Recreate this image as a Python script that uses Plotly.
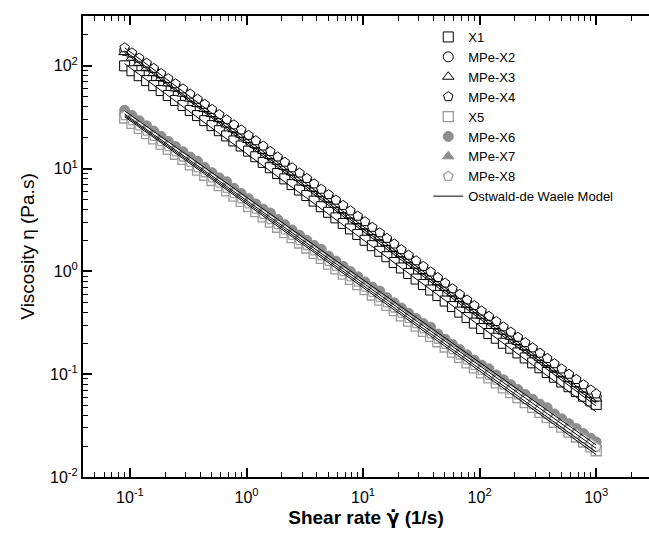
import plotly.graph_objects as go

# Shear rate (1/s)
shear_rate = [0.09, 0.104, 0.12, 0.139, 0.16, 0.185, 0.213, 0.246, 0.285, 0.329, 0.38, 0.438, 0.506,
              0.584, 0.675, 0.779, 0.9, 1.04, 1.2, 1.39, 1.6, 1.85, 2.13, 2.46, 2.85, 3.29, 3.8, 4.38,
              5.06, 5.84, 6.75, 7.79, 9.0, 10.4, 12.0, 13.9, 16.0, 18.5, 21.3, 24.6, 28.5, 32.9, 38.0,
              43.8, 50.6, 58.4, 67.5, 77.9, 90, 104, 120, 139, 160, 185, 213, 246, 285, 329, 380, 438,
              506, 584, 675, 779, 900, 1000]

# Viscosity (Pa.s)
X1 = [100, 89.6, 80.2, 71.8, 64.2, 57.5, 51.5, 46.1, 41.2, 36.8, 32.8, 29.3, 26.2, 23.4, 20.8, 18.6,
      16.6, 14.8, 13.05, 11.5, 10.2, 8.97, 7.95, 6.99, 6.19, 5.47, 4.83, 4.26, 3.76, 3.32, 2.93, 2.59,
      2.29, 2.01, 1.78, 1.57, 1.39, 1.22, 1.08, 0.955, 0.843, 0.745, 0.659, 0.582, 0.515, 0.455, 0.402,
      0.356, 0.314, 0.278, 0.249, 0.224, 0.200, 0.179, 0.161, 0.144, 0.129, 0.1155, 0.104, 0.0935,
      0.0840, 0.0756, 0.0680, 0.0611, 0.0549, 0.0509]
MPe_X2 = [141, 126, 112, 99.5, 89.2, 79.0, 70.9, 62.8, 56.3, 49.9, 44.7, 39.6, 35.5, 31.5, 28.2, 25.0,
          22.4, 19.9, 17.5, 15.7, 13.8, 12.3, 10.8, 9.62, 8.50, 7.58, 6.68, 5.95, 5.24, 4.67, 4.12, 3.67,
          3.24, 2.87, 2.53, 2.24, 1.98, 1.74, 1.54, 1.35, 1.20, 1.05, 0.932, 0.818, 0.726, 0.638, 0.565,
          0.497, 0.439, 0.387, 0.345, 0.306, 0.272, 0.241, 0.215, 0.191, 0.170, 0.151, 0.134, 0.119,
          0.106, 0.0942, 0.0836, 0.0744, 0.0660, 0.0605]
MPe_X3 = [136, 120, 107, 95.8, 85.0, 76.1, 67.6, 60.4, 53.6, 48.0, 42.6, 38.1, 33.9, 30.3, 26.9, 24.1,
          21.4, 19.0, 16.9, 14.9, 13.3, 11.7, 10.4, 9.20, 8.15, 7.25, 6.40, 5.69, 5.03, 4.46, 3.95, 3.51,
          3.10, 2.75, 2.42, 2.15, 1.89, 1.67, 1.47, 1.30, 1.14, 1.01, 0.890, 0.786, 0.693, 0.612, 0.539,
          0.477, 0.419, 0.371, 0.329, 0.294, 0.260, 0.232, 0.206, 0.183, 0.162, 0.145, 0.128, 0.114,
          0.101, 0.0902, 0.0800, 0.0712, 0.0632, 0.0580]
MPe_X4 = [150, 133.7, 119.1, 106.2, 94.6, 84.3, 75.2, 67.0, 59.7, 53.2, 47.4, 42.3, 37.7, 33.6, 29.9,
          26.7, 23.8, 21.1, 18.7, 16.6, 14.7, 13.0, 11.55, 10.2, 9.07, 8.04, 7.12, 6.31, 5.59, 4.95, 4.39,
          3.89, 3.45, 3.05, 2.69, 2.38, 2.10, 1.85, 1.63, 1.44, 1.27, 1.12, 0.989, 0.872, 0.770, 0.679,
          0.599, 0.529, 0.466, 0.412, 0.366, 0.326, 0.289, 0.257, 0.229, 0.203, 0.1805, 0.1604, 0.1426,
          0.1267, 0.1126, 0.1001, 0.0890, 0.0790, 0.0702, 0.0644]
X5 = [31.1, 27.6, 24.6, 21.9, 19.5, 17.3, 15.5, 13.8, 12.3, 10.9, 9.66, 8.62, 7.67, 6.83, 6.07, 5.41,
      4.81, 4.28, 3.81, 3.39, 3.02, 2.69, 2.39, 2.13, 1.89, 1.69, 1.50, 1.34, 1.18, 1.06, 0.941, 0.837,
      0.745, 0.664, 0.590, 0.525, 0.467, 0.416, 0.370, 0.329, 0.293, 0.261, 0.233, 0.207, 0.184, 0.164,
      0.146, 0.129, 0.115, 0.103, 0.0921, 0.0825, 0.0738, 0.0661, 0.0592, 0.0530, 0.0475, 0.0425,
      0.0381, 0.0341, 0.0305, 0.0273, 0.0245, 0.0219, 0.0196, 0.0180]
MPe_X6 = [37.0, 32.9, 29.3, 26.1, 23.2, 20.6, 18.4, 16.4, 14.6, 12.95, 11.8, 10.26, 9.13, 8.13, 7.45,
          6.44, 5.73, 5.10, 4.54, 4.04, 3.70, 3.20, 2.85, 2.53, 2.25, 2.01, 1.79, 1.64, 1.41, 1.26, 1.12,
          0.997, 0.887, 0.790, 0.703, 0.645, 0.556, 0.495, 0.441, 0.392, 0.349, 0.311, 0.287, 0.246,
          0.219, 0.195, 0.1735, 0.1544, 0.1374, 0.1226, 0.113, 0.0985, 0.0883, 0.0791, 0.0709, 0.0636,
          0.0570, 0.0511, 0.0472, 0.0411, 0.0368, 0.0330, 0.0296, 0.0265, 0.0238, 0.0219]
MPe_X7 = [35.8, 31.4, 28.3, 25.0, 22.5, 19.7, 17.8, 15.7, 14.1, 12.4, 11.1, 9.80, 8.85, 7.78, 7.00, 6.16,
          5.55, 4.88, 4.40, 3.87, 3.48, 3.06, 2.76, 2.42, 2.18, 1.92, 1.73, 1.52, 1.37, 1.20, 1.09, 0.955,
          0.860, 0.756, 0.682, 0.598, 0.540, 0.474, 0.428, 0.375, 0.339, 0.298, 0.269, 0.236, 0.213, 0.187,
          0.168, 0.148, 0.133, 0.117, 0.1065, 0.0943, 0.0857, 0.0757, 0.0688, 0.0609, 0.0553, 0.0489,
          0.0444, 0.0394, 0.0357, 0.0316, 0.0287, 0.0254, 0.0231, 0.0211]
MPe_X8 = [32.9, 29.3, 26.1, 23.2, 20.6, 18.3, 16.4, 14.6, 13.0, 11.5, 10.2, 9.13, 8.13, 7.24, 6.43, 5.73,
          5.10, 4.54, 4.04, 3.60, 3.20, 2.85, 2.54, 2.25, 2.00, 1.79, 1.59, 1.42, 1.25, 1.12, 0.997, 0.887,
          0.789, 0.703, 0.626, 0.556, 0.495, 0.441, 0.392, 0.349, 0.311, 0.277, 0.247, 0.219, 0.195, 0.174,
          0.154, 0.137, 0.122, 0.109, 0.0978, 0.0877, 0.0786, 0.0704, 0.0631, 0.0566, 0.0507, 0.0455,
          0.0408, 0.0366, 0.0328, 0.0294, 0.0263, 0.0236, 0.0212, 0.0195]

# Ostwald-de Waele model lines: viscosity at the first and last shear rate
model_rate = [0.09, 1000]
model_X1 = [105, 0.043]
model_X2 = [140, 0.052]
model_X3 = [135, 0.049]
model_X4 = [150, 0.055]
model_X5 = [32, 0.0165]
model_X6 = [36.5, 0.0205]
model_X7 = [34, 0.019]
model_X8 = [33, 0.0175]

names = ["X1", "MPe-X2", "MPe-X3", "MPe-X4", "X5", "MPe-X6", "MPe-X7", "MPe-X8"]
series = [X1, MPe_X2, MPe_X3, MPe_X4, X5, MPe_X6, MPe_X7, MPe_X8]
models = [model_X1, model_X2, model_X3, model_X4, model_X5, model_X6, model_X7, model_X8]

x_major = [0.1, 1, 10, 100, 1000]
x_major_text = ["10<sup>-1</sup>", "10<sup>0</sup>", "10<sup>1</sup>", "10<sup>2</sup>", "10<sup>3</sup>"]
y_major = [0.01, 0.1, 1, 10, 100]
y_major_text = ["10<sup>-2</sup>", "10<sup>-1</sup>", "10<sup>0</sup>", "10<sup>1</sup>", "10<sup>2</sup>"]
x_minor = [0.05, 0.06, 0.07, 0.08, 0.09, 0.2, 0.3, 0.4, 0.5, 0.6, 0.7, 0.8, 0.9,
           2, 3, 4, 5, 6, 7, 8, 9, 20, 30, 40, 50, 60, 70, 80, 90,
           200, 300, 400, 500, 600, 700, 800, 900, 2000]
y_minor = [0.02, 0.03, 0.04, 0.05, 0.06, 0.07, 0.08, 0.09, 0.2, 0.3, 0.4, 0.5, 0.6, 0.7, 0.8, 0.9,
           2, 3, 4, 5, 6, 7, 8, 9, 20, 30, 40, 50, 60, 70, 80, 90, 200, 300]

styles = [
    dict(symbol="square", color="white", line=dict(color="black", width=1)),
    dict(symbol="circle", color="white", line=dict(color="black", width=1)),
    dict(symbol="triangle-up", color="white", line=dict(color="black", width=1)),
    dict(symbol="pentagon", color="white", line=dict(color="black", width=1)),
    dict(symbol="square", color="white", line=dict(color="#9a9a9a", width=1.3)),
    dict(symbol="circle", color="#8e8e8e", line=dict(color="#8e8e8e", width=1)),
    dict(symbol="triangle-up", color="#8e8e8e", line=dict(color="#8e8e8e", width=1)),
    dict(symbol="pentagon", color="white", line=dict(color="#a0a0a0", width=1.3)),
]

FONT = "Liberation Sans, Arial, sans-serif"
fig = go.Figure()
for name, ys, st in zip(names, series, styles):
    fig.add_trace(go.Scatter(x=shear_rate, y=ys, mode="markers", name=name,
                             marker=dict(size=10, **st)))
for k, m in enumerate(models):
    fig.add_trace(go.Scatter(x=model_rate, y=m, mode="lines", name="Ostwald-de Waele Model",
                             line=dict(color="black", width=1), legendgroup="model",
                             showlegend=(k == 0)))

fig.update_layout(
    width=649, height=540,
    margin=dict(l=83, r=0, t=16, b=63, autoexpand=False),
    plot_bgcolor="white", paper_bgcolor="white",
    font=dict(family=FONT, color="black"),
    legend=dict(x=0.61, y=0.987, xanchor="left", yanchor="top", bgcolor="rgba(0,0,0,0)",
                font=dict(size=13, family=FONT), itemwidth=30, tracegroupgap=0),
    showlegend=True,
)
fig.update_xaxes(
    type="log", range=[-1.403, 3.453],
    tickmode="array", tickvals=x_major, ticktext=x_major_text,
    ticks="inside", ticklen=9, tickwidth=1.5, tickcolor="black",
    showline=True, linewidth=2, linecolor="black", mirror="ticks",
    showgrid=False, zeroline=False, ticklabelstandoff=5,
    tickfont=dict(size=16, family=FONT),
    minor=dict(tickvals=x_minor, ticks="inside", ticklen=5, tickwidth=1.2, tickcolor="black", showgrid=False),
    title=dict(text="<b>Shear rate <span style=\"font-family:DejaVu Sans\">γ̇</span> (1/s)</b>",
               font=dict(size=19, family=FONT), standoff=5),
)
fig.update_yaxes(
    type="log", range=[-2, 2.485],
    tickmode="array", tickvals=y_major, ticktext=y_major_text,
    ticks="inside", ticklen=9, tickwidth=1.5, tickcolor="black",
    showline=True, linewidth=2, linecolor="black", mirror=False,
    showgrid=False, zeroline=False,
    tickfont=dict(size=16, family=FONT),
    minor=dict(tickvals=y_minor, ticks="inside", ticklen=5, tickwidth=1.2, tickcolor="black", showgrid=False),
    title=dict(text="Viscosity η (Pa.s)", font=dict(size=19, family=FONT), standoff=10),
)

fig.write_html("out.html", config={"displayModeBar": False},
               post_script="document.body.style.margin='0';document.body.style.overflow='hidden';")
